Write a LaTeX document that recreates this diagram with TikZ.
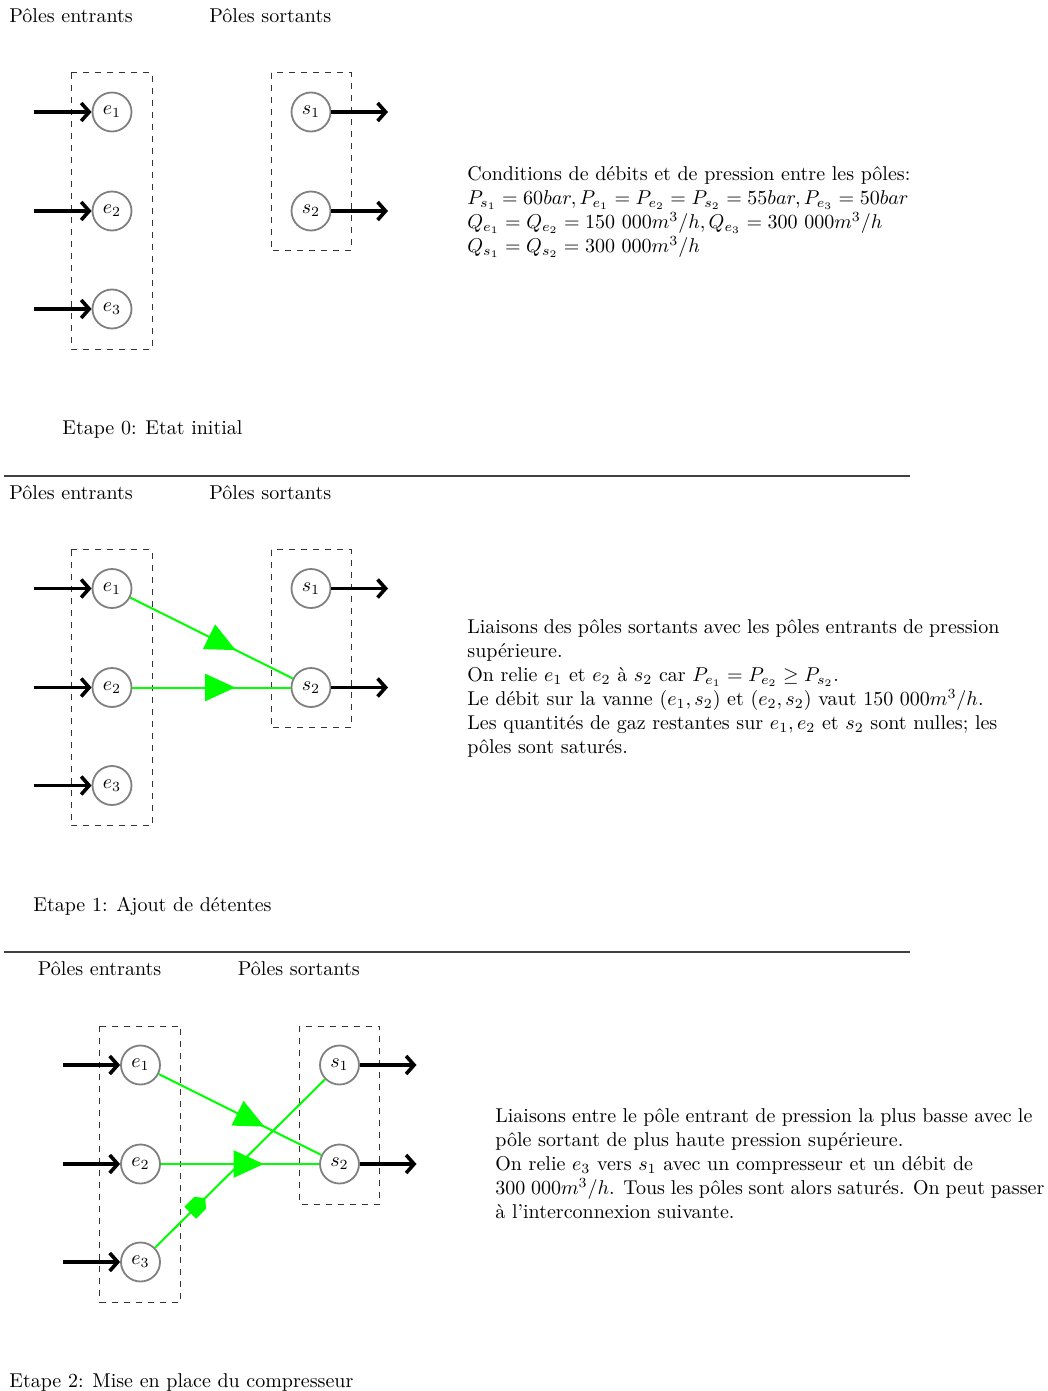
\documentclass[tikz,border=0pt]{standalone}
\usepackage{fontspec}
\usetikzlibrary{arrows.meta,decorations.markings}
\begin{document}
\begin{tikzpicture}[x=0.5pt,y=-0.5pt,
  pole/.style={circle,draw=black!50,line width=0.9pt,fill=white,minimum size=19.5pt,inner sep=0pt},
  groupbox/.style={draw=black!80,dashed,line width=0.5pt},
  flow/.style={line width=1.8pt,-{Straight Barb[length=4pt,width=9pt]}},
  link/.style={green,line width=1pt},
  valve/.style={link,postaction={decorate},decoration={markings,mark=at position 0.65 with {\arrow{Triangle[length=15pt,width=13.5pt]}}}},
  comp/.style={link,postaction={decorate},decoration={markings,mark=at position 0.25 with {\fill[green] (-5pt,-4.2pt) -- (2pt,-4.2pt) -- (5.5pt,0pt) -- (2pt,4.2pt) -- (-5pt,4.2pt) -- cycle;}}},
  lbl/.style={anchor=base west,inner sep=0pt},
  txt/.style={anchor=north west,inner sep=0pt,align=left},
  sep/.style={draw=black!75,line width=0.8pt}
]
\useasboundingbox (0,0) rectangle (1048,1391);

% ---------- Section 0 ----------
\begin{scope}
\node[lbl] (lina) at (9,22.5) {Pôles entrants};
\node[lbl] (louta) at (209,22.5) {Pôles sortants};
\draw[groupbox] (71,73) rectangle (152,349);
\draw[groupbox] (271,73) rectangle (351,251);
\node[pole] (e1a) at (112,112) {$e_1$};
\node[pole] (e2a) at (112,211) {$e_2$};
\node[pole] (e3a) at (112,309) {$e_3$};
\node[pole] (s1a) at (311,112) {$s_1$};
\node[pole] (s2a) at (311,211) {$s_2$};
\coordinate (ie1a) at (34,112);
\coordinate (ie2a) at (34,211);
\coordinate (ie3a) at (34,309);
\coordinate (os1a) at (388,112);
\coordinate (os2a) at (388,211);
\draw[flow] (ie1a) -- (e1a);
\draw[flow] (ie2a) -- (e2a);
\draw[flow] (ie3a) -- (e3a);
\draw[flow] (s1a) -- (os1a);
\draw[flow] (s2a) -- (os2a);
\end{scope}

% ---------- Section 1 ----------
\begin{scope}[shift={(0,476.5)}]
\node[lbl] (linb) at (9,22.5) {Pôles entrants};
\node[lbl] (loutb) at (209,22.5) {Pôles sortants};
\draw[groupbox] (71,73) rectangle (152,349);
\draw[groupbox] (271,73) rectangle (351,251);
\node[pole] (e1b) at (112,112) {$e_1$};
\node[pole] (e2b) at (112,211) {$e_2$};
\node[pole] (e3b) at (112,309) {$e_3$};
\node[pole] (s1b) at (311,112) {$s_1$};
\node[pole] (s2b) at (311,211) {$s_2$};
\coordinate (ie1b) at (34,112);
\coordinate (ie2b) at (34,211);
\coordinate (ie3b) at (34,309);
\coordinate (os1b) at (388,112);
\coordinate (os2b) at (388,211);
\draw[flow] (ie1b) -- (e1b);
\draw[flow] (ie2b) -- (e2b);
\draw[flow] (ie3b) -- (e3b);
\draw[flow] (s1b) -- (os1b);
\draw[flow] (s2b) -- (os2b);
\draw[valve] (e1b) -- (s2b);
\draw[valve] (e2b) -- (s2b);
\end{scope}

% ---------- Section 2 ----------
\begin{scope}[shift={(28.5,953)}]
\node[lbl] (linc) at (9,22.5) {Pôles entrants};
\node[lbl] (loutc) at (209,22.5) {Pôles sortants};
\draw[groupbox] (71,73) rectangle (152,349);
\draw[groupbox] (271,73) rectangle (351,251);
\node[pole] (e1c) at (112,112) {$e_1$};
\node[pole] (e2c) at (112,211) {$e_2$};
\node[pole] (e3c) at (112,309) {$e_3$};
\node[pole] (s1c) at (311,112) {$s_1$};
\node[pole] (s2c) at (311,211) {$s_2$};
\coordinate (ie1c) at (34,112);
\coordinate (ie2c) at (34,211);
\coordinate (ie3c) at (34,309);
\coordinate (os1c) at (388,112);
\coordinate (os2c) at (388,211);
\draw[flow] (ie1c) -- (e1c);
\draw[flow] (ie2c) -- (e2c);
\draw[flow] (ie3c) -- (e3c);
\draw[flow] (s1c) -- (os1c);
\draw[flow] (s2c) -- (os2c);
\draw[valve] (e1c) -- (s2c);
\draw[valve] (e2c) -- (s2c);
\draw[comp] (e3c) -- (s1c);
\end{scope}

% ---------- step captions and separators ----------
\node[lbl] (stepa) at (62,434) {Etape 0: Etat initial};
\node[lbl] (stepb) at (33,911) {Etape 1: Ajout de détentes};
\node[lbl] (stepc) at (9,1387) {Etape 2: Mise en place du compresseur};
\draw[sep] (4,476) -- (910,476);
\draw[sep] (4,952) -- (910,952);

% ---------- explanations ----------
\node[txt] (texta) at (467,166) {Conditions de débits et de pression entre les pôles:\\
$P_{s_1}=60bar, P_{e_1}=P_{e_2}=P_{s_2}=55bar, P_{e_3}=50bar$\\
$Q_{e_1}=Q_{e_2}=150\ 000m^3/h, Q_{e_3}=300\ 000m^3/h$\\
$Q_{s_1}=Q_{s_2}=300\ 000m^3/h$};

\node[txt] (textb) at (467,619) {\makebox[266pt][s]{Liaisons des pôles sortants avec les pôles entrants de pression}\\
supérieure.\\
On relie $e_1$ et $e_2$ à $s_2$ car $P_{e_1}=P_{e_2}\geq P_{s_2}$.\\
Le débit sur la vanne $(e_1,s_2)$ et $(e_2,s_2)$ vaut $150\ 000m^3/h$.\\
Les quantités de gaz restantes sur $e_1,e_2$ et $s_2$ sont nulles; les\\
pôles sont saturés.};

\node[txt] (textc) at (495,1108) {\makebox[268.5pt][s]{Liaisons entre le pôle entrant de pression la plus basse avec le}\\
pôle sortant de plus haute pression supérieure.\\
On relie $e_3$ vers $s_1$ avec un compresseur et un débit de\\
\makebox[274.5pt][s]{$300\ 000m^3/h$. Tous les pôles sont alors saturés. On peut passer}\\
à l'interconnexion suivante.};
\end{tikzpicture}
\end{document}
